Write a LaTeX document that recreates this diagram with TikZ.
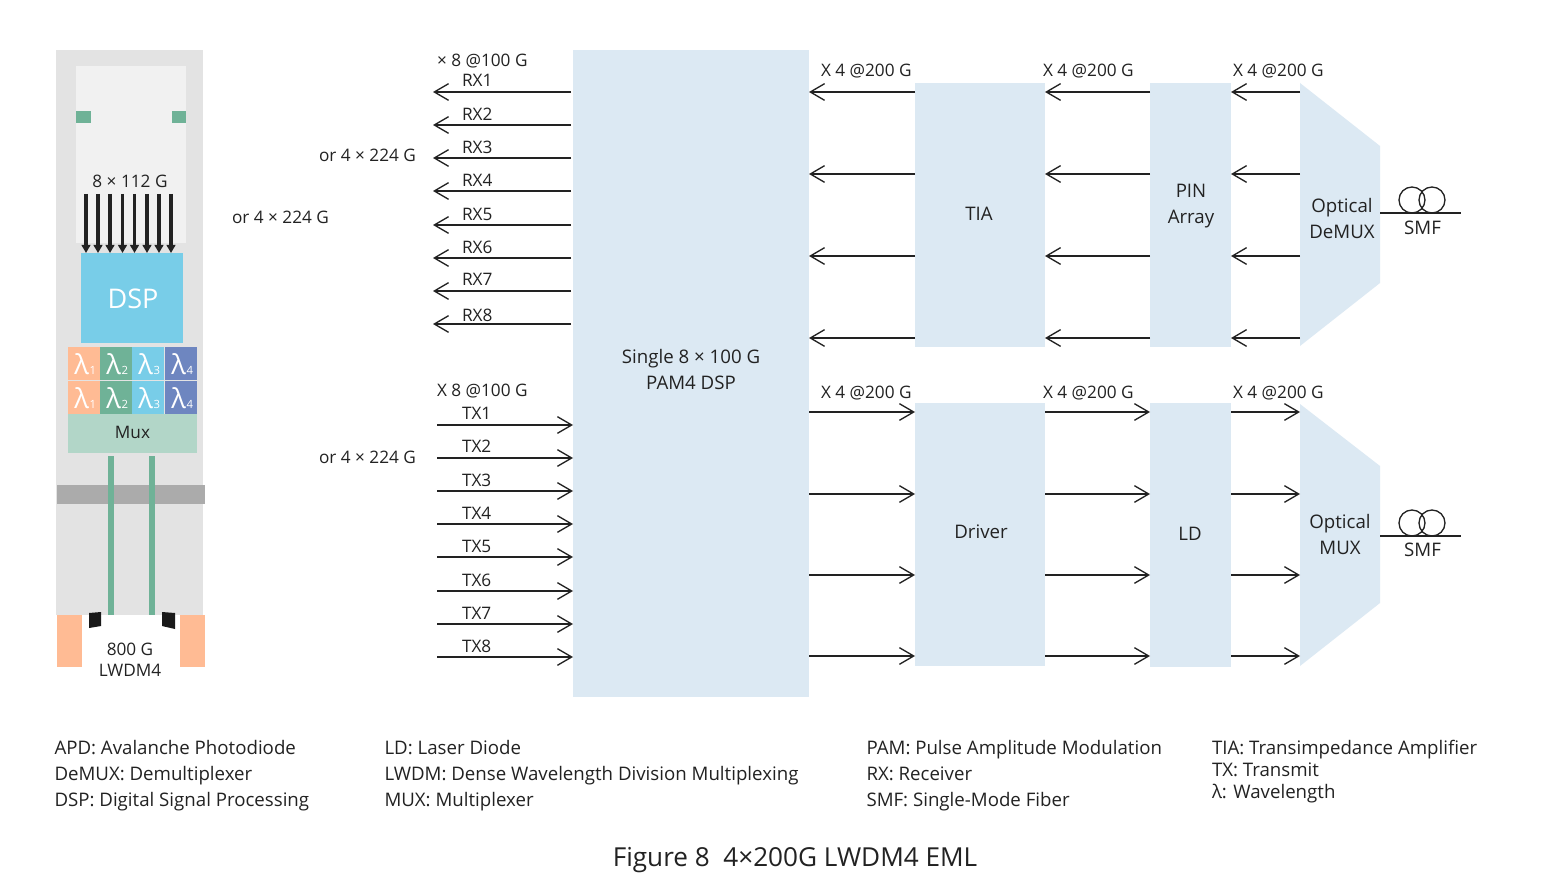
\documentclass[tikz,border=0pt]{standalone}
\usepackage{fontspec}
\setmainfont{Open Sans}
\usetikzlibrary{arrows.meta}
\definecolor{panel}{HTML}{DCE9F3}
\definecolor{cage}{HTML}{E3E3E3}
\definecolor{pcb}{HTML}{F1F1F1}
\definecolor{lgreen}{HTML}{6FB297}
\definecolor{lblue}{HTML}{78CDE8}
\definecolor{lindigo}{HTML}{6E86C0}
\definecolor{lorange}{HTML}{FFBB94}
\definecolor{muxgreen}{HTML}{B2D6C8}
\definecolor{band}{HTML}{ABABAB}
\definecolor{ink}{HTML}{222222}
\newcommand{\pxfont}[2]{\fontsize{#1}{#2}\selectfont}
\tikzset{
  x=0.75pt,y=-0.75pt,
  every node/.style={inner sep=0pt,outer sep=0pt,text=ink},
  lbl/.style={font=\pxfont{12.9}{15.5}},
  legend/.style={font=\pxfont{14}{19.5},align=left,anchor=west},
  block/.style={fill=panel,draw=none,anchor=north west},
  blocktext/.style={font=\pxfont{14}{19.7},align=center},
  flow/.style={draw=ink,line width=1pt,-{Straight Barb[length=10.7pt,width=12.5pt,line width=1pt]}},
  fibre/.style={draw=ink,line width=1.1pt},
  chip/.style={draw=none,minimum width=24.3pt,minimum height=25pt,anchor=north west,text=white,font=\pxfont{20.5}{22}},
  drop/.style={draw=ink,line width=2.6pt,-{Triangle[length=6pt,width=6.5pt]}},
}
\newcommand{\wl}[1]{\kern1.6pt λ\kern0.4pt{\pxfont{8.5}{10}#1}}
\begin{document}
\begin{tikzpicture}
\useasboundingbox (0,0) rectangle (1561,895);
\fill[white] (0,0) rectangle (1561,895);

% --- pluggable module, left ---
\node[fill=cage,minimum width=110.25pt,minimum height=423.75pt,anchor=north west] (cage) at (56,50) {};
\node[fill=band,minimum width=111pt,minimum height=14.25pt,anchor=north west] (heatband) at (57,485) {};
\node[fill=pcb,minimum width=82.5pt,minimum height=132.75pt,anchor=north west] (pcb) at (76,66) {};
\node[fill=lgreen,minimum width=11.25pt,minimum height=9pt,anchor=north west] (padl) at (76,111) {};
\node[fill=lgreen,minimum width=10.5pt,minimum height=9pt,anchor=north west] (padr) at (172,111) {};
\node[fill=lblue,minimum width=76.5pt,minimum height=67.5pt,anchor=north west] (dspchip) at (81,253) {};
\node[text=white,font=\pxfont{20.3}{22}] (dsptext) at (133,299) {DSP};
\node[lbl] (lanes) at (130,181) {8 × 112 G};
\foreach \i/\xx in {1/86,2/98,3/110,4/122.5,5/134.5,6/147,7/159,8/171}{
  \coordinate (lanetop\i) at (\xx,194);
  \draw[drop] (lanetop\i) -- (lanetop\i |- dspchip.north);
}
\foreach \n/\xx/\col/\w in {a/68/lorange/1,b/100/lgreen/2,c/132/lblue/3,d/165/lindigo/4}{
  \node[chip,fill=\col] (top\n) at (\xx,347) {\wl{\w}};
  \node[chip,fill=\col] (bot\n) at (\xx,381) {\wl{\w}};
}
\node[fill=muxgreen,minimum width=96.75pt,minimum height=29.25pt,anchor=north west] (muxchip) at (68,414) {};
\node[lbl] (muxtext) at (132.5,432) {Mux};
\coordinate (fibA) at (111,456);
\coordinate (fibB) at (152,456);
\coordinate (fibAend) at (111,615);
\coordinate (fibBend) at (152,615);
\draw[lgreen,line width=4.5pt] (fibA) -- (fibAend);
\draw[lgreen,line width=4.5pt] (fibB) -- (fibBend);
\node[fill=lorange,minimum width=18.75pt,minimum height=39pt,anchor=north west] (latchl) at (57,615) {};
\node[fill=lorange,minimum width=18.75pt,minimum height=39pt,anchor=north west] (latchr) at (180,615) {};
\fill[black!90] (89,613) -- (101,612) -- (101,626) -- (89,628) -- cycle;
\fill[black!90] (162,612) -- (175,613) -- (175,629) -- (162,626) -- cycle;
\node[lbl,align=center] (modname) at (130,660) {800 G\\LWDM4};

% --- free-standing rate notes ---
\node[lbl,anchor=west] (noteA) at (232,217) {or 4 × 224 G};
\node[lbl,anchor=west] (noteB) at (319,155) {or 4 × 224 G};
\node[lbl,anchor=west] (noteC) at (319,457) {or 4 × 224 G};

% --- signal-path blocks ---
\node[block,minimum width=177pt,minimum height=485.25pt] (main) at (573,50) {};
\node[block,minimum width=97.5pt,minimum height=198pt] (tia) at (915,83) {};
\node[block,minimum width=60.75pt,minimum height=198pt] (pin) at (1150,83) {};
\node[block,minimum width=97.5pt,minimum height=197.25pt] (driver) at (915,403) {};
\node[block,minimum width=60.75pt,minimum height=198pt] (ld) at (1150,403) {};
\fill[panel] (1300,83) -- (1380,146) -- (1380,283) -- (1300,346) -- cycle;
\fill[panel] (1300,404) -- (1380,466) -- (1380,603) -- (1300,666) -- cycle;
\node[blocktext] (maintext) at (691,369.5) {Single 8 × 100 G\\PAM4 DSP};
\node[blocktext] (tiatext) at (979,214) {TIA};
\node[blocktext] (pintext) at (1191,206) {PIN\\Array};
\node[blocktext] (drivertext) at (981,532) {Driver};
\node[blocktext] (ldtext) at (1190,534) {LD};
\node[blocktext] (demux) at (1342,218.8) {Optical\\DeMUX};
\node[blocktext] (mux) at (1340,534.3) {Optical\\MUX};
\coordinate (muxedge) at (1300,404);

% --- host-side lanes ---
\foreach \i/\yy/\base in {1/92/87,2/125/121,3/158/154,4/191/187,5/225/221,6/258/253,7/291/286,8/324/321}{
  \coordinate (rxend\i) at (433,\yy);
  \draw[flow] (main.west |- rxend\i) ++(-2,0) -- (rxend\i);
  \node[lbl,anchor=base west] (rxlab\i) at (462,\base) {RX\i};
}
\foreach \i/\yy/\base in {1/425/419.5,2/458/452.5,3/491/486.5,4/524/519.5,5/557/552.5,6/591/586.5,7/624/619.5,8/657/652.5}{
  \coordinate (txstart\i) at (437,\yy);
  \draw[flow] (txstart\i) -- (main.west |- txstart\i);
  \node[lbl,anchor=base west] (txlab\i) at (462,\base) {TX\i};
}

% --- line-side lanes ---
\foreach \yy in {92,174,256,338}{
  \coordinate (r) at (1300,\yy);
  \draw[flow] (r) -- (pin.east |- r);
  \draw[flow] (pin.west |- r) -- (tia.east |- r);
  \draw[flow] (tia.west |- r) -- (main.east |- r);
}
\foreach \yy in {412,494,575,656}{
  \coordinate (t) at (809,\yy);
  \draw[flow] (t) -- (driver.west |- t);
  \draw[flow] (driver.east |- t) -- (ld.west |- t);
  \draw[flow] (ld.east |- t) -- (muxedge |- t);
}

% --- rate labels ---
\node[lbl,anchor=west] (rateRX) at (437,61) {× 8 @100 G};
\node[lbl,anchor=west] (rateTX) at (437,391) {X 8 @100 G};
\foreach \n/\xx in {a/821,b/1043,c/1233}{
  \node[lbl,anchor=west] (rrate\n) at (\xx,71) {X 4 @200 G};
  \node[lbl,anchor=west] (trate\n) at (\xx,393) {X 4 @200 G};
}

% --- fibre symbols ---
\foreach \n/\yy/\lab in {rx/213/228,tx/536/550}{
  \coordinate (smf\n a) at (1380,\yy);
  \coordinate (smf\n b) at (1461,\yy);
  \draw[fibre] (smf\n a) -- (smf\n b);
  \draw[fibre,line width=1pt] (1412,\yy-13) circle[radius=13];
  \draw[fibre,line width=1pt] (1432,\yy-13) circle[radius=13];
  \node[blocktext] (smflab\n) at (1422.5,\lab) {SMF};
}

% --- abbreviations ---
\node[legend] (legA) at (54.5,776) {APD: Avalanche Photodiode\\DeMUX: Demultiplexer\\DSP: Digital Signal Processing};
\node[legend] (legB) at (384.5,776) {LD: Laser Diode\\LWDM: Dense Wavelength Division Multiplexing\\MUX: Multiplexer};
\node[legend] (legC) at (866.5,776) {PAM: Pulse Amplitude Modulation\\RX: Receiver\\SMF: Single-Mode Fiber};
\node[legend,font=\pxfont{14}{16.5}] (legD) at (1212,772) {TIA: Transimpedance Amplifier\\TX: Transmit\\λ: Wavelength};
\node[font=\pxfont{19.6}{24}] (caption) at (795,860) {Figure 8\ \ 4×200G LWDM4 EML};
\end{tikzpicture}
\end{document}
